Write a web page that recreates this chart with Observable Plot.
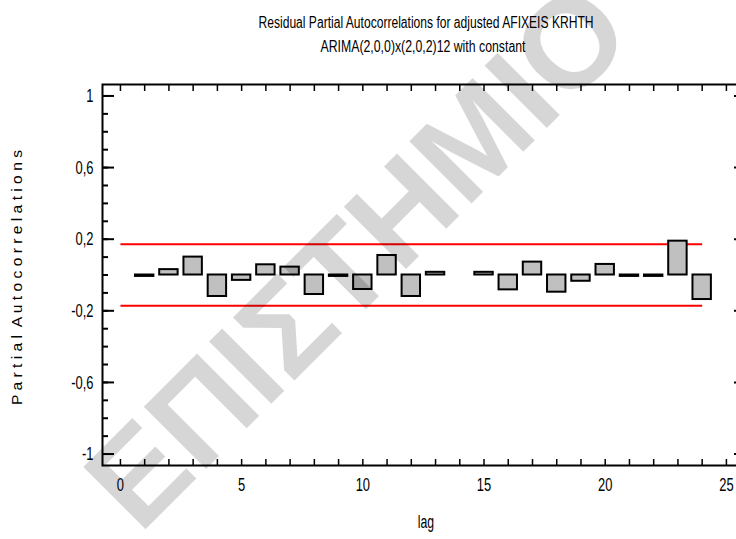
<!DOCTYPE html>
<html><head><meta charset="utf-8">
<script src="https://cdn.jsdelivr.net/npm/d3@7"></script>
<script src="https://cdn.jsdelivr.net/npm/@observablehq/plot@0.6"></script>
<style>body{margin:0;background:#fff}</style>
</head><body><div id="chart"></div>
<script>
// ---- data ----
const lags = [1,2,3,4,5,6,7,8,9,10,11,12,13,15,16,17,18,19,20,21,22,23,24];
const pacf = [-0.008,0.03,0.10,-0.12,-0.03,0.057,0.044,-0.109,-0.008,-0.081,0.109,-0.12,0.015,0.015,-0.083,0.072,-0.096,-0.035,0.059,-0.008,-0.008,0.189,-0.137];
const limitLags = [0, 24];
const limits = [0.172, -0.172];
const xMajor = [0,5,10,15,20,25];
const xMinor = d3.range(0, 26);
const yMajor = [1,0.6,0.2,-0.2,-0.6,-1];
const yMinor = d3.range(-10, 11).map(d => d / 10);
const title = "Residual Partial Autocorrelations for adjusted AFIXEIS KRHTH";
const subtitle = "ARIMA(2,0,0)x(2,0,2)12 with constant";
const xLabel = "lag";
const yLabel = "P a r t i a l  A u t o c o r r e l a t i o n s";
const watermark = "ΕΠΙΣΤΗΜΙΟ";

const bars = lags.map((lag, i) => ({lag, value: pacf[i]}));
const limitLines = limits.map(v => ({x1: limitLags[0], x2: limitLags[1], y: v}));
const fmt = d => String(d).replace(".", ",");
const font = "'Liberation Sans', Arial, sans-serif";

const chart = Plot.plot({
  width: 736, height: 539,
  marginLeft: 102, marginRight: -3, marginTop: 84, marginBottom: 74,
  style: {fontFamily: font, color: "#000", background: "#fff"},
  x: {domain: [-0.74, 25.54], axis: null},
  y: {domain: [-1.064, 1.064], axis: null},
  marks: [
    Plot.link(limitLines, {x1: "x1", x2: "x2", y1: "y", y2: "y", stroke: "#ff0000", strokeWidth: 2}),
    Plot.rect(bars, {x1: d => d.lag - 0.38, x2: d => d.lag + 0.38, y1: 0, y2: "value", fill: "#c0c0c0", stroke: "#000", strokeWidth: 2}),
    Plot.frame({stroke: "#000", strokeWidth: 2}),
    // x axis ticks
    Plot.axisX(xMinor, {anchor: "bottom", tickSize: -6, tickFormat: () => "", strokeWidth: 1.5}),
    Plot.axisX(xMinor, {anchor: "top", tickSize: -6, tickFormat: () => "", strokeWidth: 1.5}),
    Plot.axisX(xMajor, {anchor: "bottom", tickSize: 0, tickPadding: 12, tickFormat: fmt, fontSize: 19}),
    // y axis ticks
    Plot.axisY(yMinor, {anchor: "left", tickSize: -6, tickFormat: () => "", strokeWidth: 2}),
    Plot.axisY(yMajor, {anchor: "left", tickSize: -12, tickFormat: () => "", strokeWidth: 2}),
    Plot.axisY(yMajor, {anchor: "right", tickSize: -6, tickFormat: () => "", strokeWidth: 2}),
    Plot.axisY(yMajor, {anchor: "left", tickSize: 0, tickPadding: 9, tickFormat: fmt, fontSize: 19}),
    // titles
    Plot.text([title], {frameAnchor: "top", dx: 5, dy: -68, fontSize: 16, text: d => d}),
    Plot.text([subtitle], {frameAnchor: "top", dx: 2, dy: -44, fontSize: 16, text: d => d}),
    Plot.text([xLabel], {frameAnchor: "bottom", dx: 5, dy: 62, fontSize: 18, text: d => d}),
    Plot.text([yLabel], {frameAnchor: "left", dx: -85, dy: 130, rotate: -90, textAnchor: "start", fontSize: 15, text: d => d}),
    // watermark
    Plot.text([watermark], {frameAnchor: "middle", dx: -62, dy: -17, rotate: -45, fontSize: 128, fontWeight: "bold", fill: "#000", fillOpacity: 0.16, text: d => d})
  ]
});
document.getElementById("chart").appendChild(chart);

// condense the type like the original narrow font
const targets = new Map([[title, 335], [subtitle, 205], [yLabel, 255]]);
d3.select(chart).selectAll("text").each(function() {
  const t = this.textContent;
  if (!t || t === watermark) return;
  const len = this.getComputedTextLength();
  const target = targets.has(t) ? targets.get(t) : len * 0.68;
  this.setAttribute("textLength", target);
  this.setAttribute("lengthAdjust", "spacingAndGlyphs");
});
</script>
</body></html>
